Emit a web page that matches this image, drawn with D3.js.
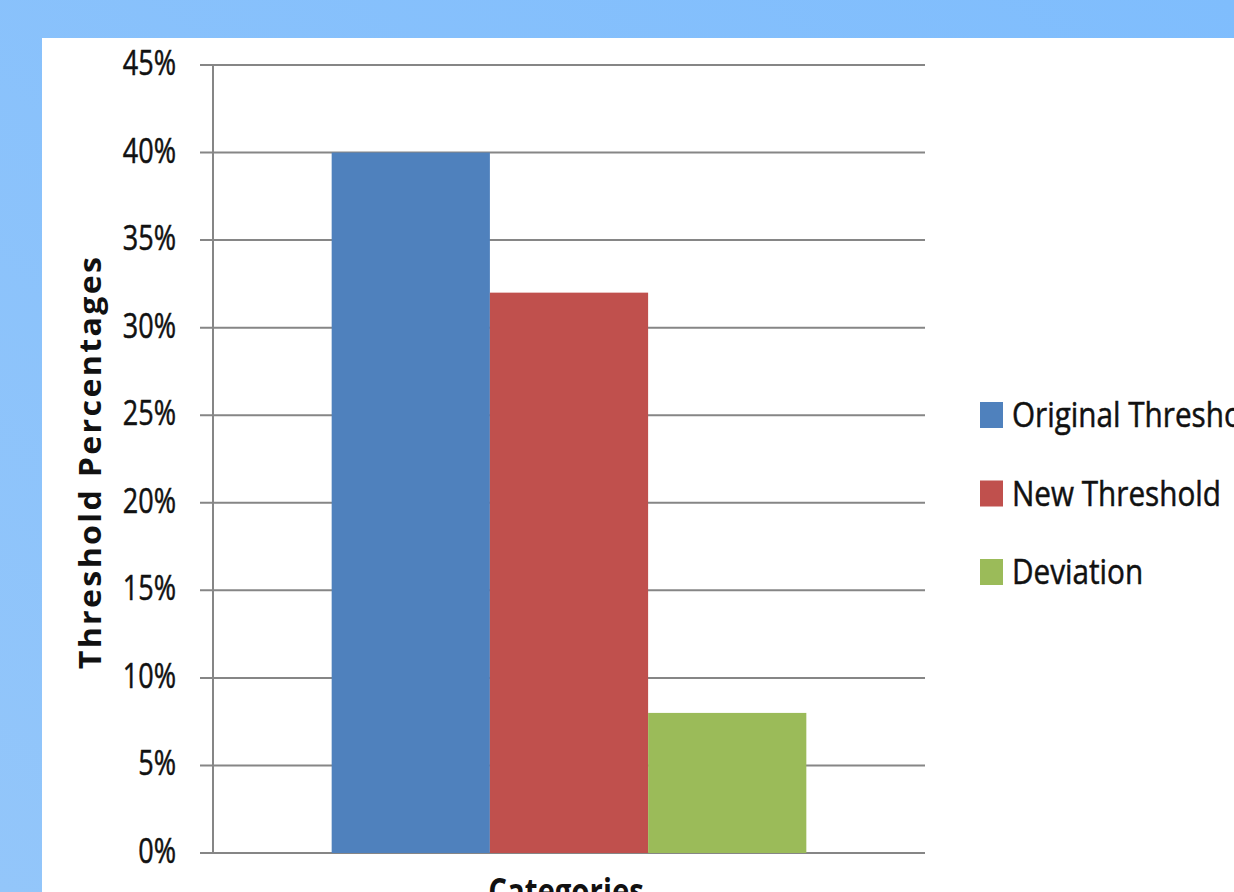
<!DOCTYPE html>
<html>
<head>
<meta charset="utf-8">
<script src="https://cdn.jsdelivr.net/npm/d3@7"></script>
<style>
  body { margin: 0; overflow: hidden; }
  svg { display: block; }
</style>
</head>
<body>
<div id="chart"></div>
<script>
// chart data
const categories = ["Categories"];
const seriesNames = ["Original Threshold", "New Threshold", "Deviation"];
const seriesValues = [0.40, 0.32, 0.08];
const seriesColors = ["#4f81bd", "#c0504d", "#9bbb59"];
const tickValues = [0, 0.05, 0.10, 0.15, 0.20, 0.25, 0.30, 0.35, 0.40, 0.45];

const W = 1234, H = 892;
const font = "'Open Sans', 'DejaVu Sans', sans-serif";
const textColor = "#111";

const svg = d3.select("#chart").append("svg")
    .attr("width", W)
    .attr("height", H);

// blue page background
const defs = svg.append("defs");
const grad = defs.append("linearGradient")
    .attr("id", "bg")
    .attr("x1", "0%").attr("y1", "100%")
    .attr("x2", "100%").attr("y2", "0%");
grad.append("stop").attr("offset", "0%").attr("stop-color", "#93c6fa");
grad.append("stop").attr("offset", "100%").attr("stop-color", "#7fbdfd");

svg.append("rect")
    .attr("width", W).attr("height", H)
    .attr("fill", "url(#bg)");

// white slide panel
svg.append("rect")
    .attr("x", 42).attr("y", 38)
    .attr("width", W - 42).attr("height", H - 38)
    .attr("fill", "#fff");

const plot = { left: 213, right: 925, top: 65, bottom: 853 };

const y = d3.scaleLinear()
    .domain([0, 0.45])
    .range([plot.bottom, plot.top]);

const x0 = d3.scaleBand()
    .domain(categories)
    .range([plot.left, plot.right])
    .paddingInner(0)
    .paddingOuter(0.25);

const x1 = d3.scaleBand()
    .domain(seriesNames)
    .range([0, x0.bandwidth()]);

// gridlines + ticks
svg.append("g").selectAll("line")
    .data(tickValues)
    .enter().append("line")
    .attr("x1", plot.left - 13)
    .attr("x2", plot.right)
    .attr("y1", d => y(d))
    .attr("y2", d => y(d))
    .attr("stroke", "#868686")
    .attr("stroke-width", 2);

// tick labels (stretched a bit vertically like the original)
svg.append("g").selectAll("text")
    .data(tickValues)
    .enter().append("text")
    .attr("transform", d => `translate(176, ${y(d) + 10}) scale(1, 1.3)`)
    .attr("text-anchor", "end")
    .attr("font-family", font)
    .attr("font-size", 27)
    .attr("fill", textColor)
    .attr("stroke", textColor)
    .attr("stroke-width", 0.4)
    .text(d => d3.format(".0%")(d));

// bars
svg.append("g")
    .selectAll("rect")
    .data(seriesNames.map((s, i) => ({ name: s, value: seriesValues[i], color: seriesColors[i] })))
    .enter().append("rect")
    .attr("x", d => x0(categories[0]) + x1(d.name))
    .attr("y", d => y(d.value))
    .attr("width", x1.bandwidth())
    .attr("height", d => y(0) - y(d.value))
    .attr("fill", d => d.color);

// y axis line
svg.append("line")
    .attr("x1", plot.left).attr("x2", plot.left)
    .attr("y1", plot.top).attr("y2", plot.bottom)
    .attr("stroke", "#868686")
    .attr("stroke-width", 2);

// axis titles
svg.append("text")
    .attr("transform", `translate(101, 462) rotate(-90) scale(1.15, 1.1)`)
    .attr("text-anchor", "middle")
    .attr("font-family", font)
    .attr("font-weight", "bold")
    .attr("font-size", 28)
    .attr("letter-spacing", 2)
    .attr("fill", textColor)
    .text("Threshold Percentages");

svg.append("text")
    .attr("transform", `translate(${x0(categories[0]) + x0.bandwidth() / 2 - 3}, 904) scale(1.05, 1.3)`)
    .attr("text-anchor", "middle")
    .attr("font-family", font)
    .attr("font-weight", "bold")
    .attr("font-size", 28)
    .attr("fill", textColor)
    .text(categories[0]);

// legend
const legend = svg.append("g")
    .selectAll("g")
    .data(seriesNames)
    .enter().append("g")
    .attr("transform", (d, i) => `translate(980, ${402 + i * 78.5})`);

legend.append("rect")
    .attr("width", 23)
    .attr("height", 26)
    .attr("fill", (d, i) => seriesColors[i]);

legend.append("text")
    .attr("transform", "translate(32, 25) scale(1.1, 1.3)")
    .attr("font-family", font)
    .attr("font-size", 27)
    .attr("fill", textColor)
    .attr("stroke", textColor)
    .attr("stroke-width", 0.4)
    .text(d => d);
</script>
</body>
</html>
